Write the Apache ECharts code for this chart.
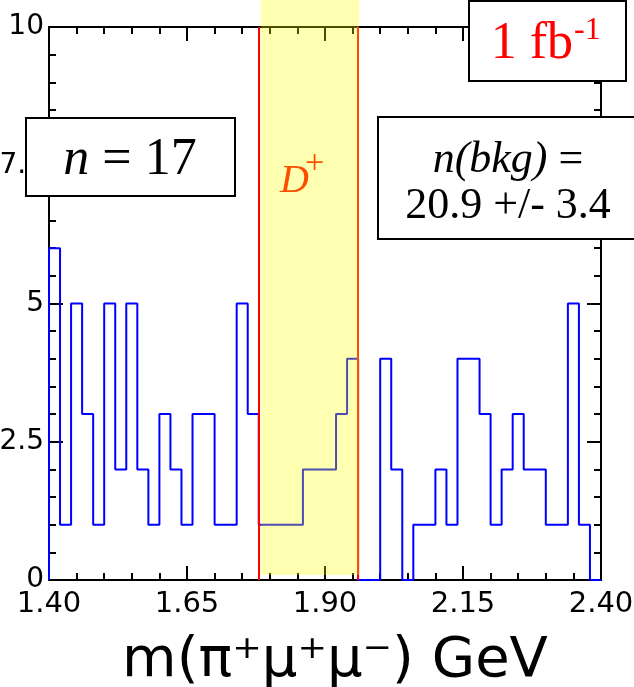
<!DOCTYPE html>
<html>
<head>
<meta charset="utf-8">
<script src="https://cdn.jsdelivr.net/npm/echarts@6/dist/echarts.min.js"></script>
<style>
    html, body { margin: 0; padding: 0; background: #fff; }
    #main { width: 634px; height: 687px; }
</style>
</head>
<body>
<div id="main"></div>
<script>
// histogram: 50 bins of 0.02 GeV from 1.40 to 2.40
var xMin = 1.40, xMax = 2.40;
var binWidth = 0.02;
var counts = [6, 1, 5, 3, 1, 5, 2, 5, 2, 1,
              3, 2, 1, 3, 3, 1, 1, 5, 3, 1,
              1, 1, 1, 2, 2, 2, 3, 4, 0, 0,
              4, 2, 0, 1, 1, 2, 1, 4, 4, 3,
              1, 2, 3, 2, 2, 1, 1, 5, 1, 0];
var xTickLabels = ['1.40', '1.65', '1.90', '2.15', '2.40'];
var yTickLabels = ['0', '2.5', '5', '7.5', '10'];
var signalWindow = [1.78, 1.96];

var SERIF = '"Liberation Serif", "Times New Roman", serif';
var SANS = '"DejaVu Sans", sans-serif';

// x axis runs on offset from xMin so ticks start at 0
function off(m) { return m - xMin; }

var stepData = [[0, 0]];
counts.forEach(function(c, i) {
    stepData.push([off(xMin + i * binWidth), c]);
});
stepData.push([off(xMax), counts[counts.length - 1]]);

var chart = echarts.init(document.getElementById('main'));

function xAxisCfg(pos, showLabel) {
    return {
        type: 'value',
        position: pos,
        min: 0,
        max: off(xMax),
        interval: 0.25,
        axisLine: { show: true, onZero: false, lineStyle: { color: '#000', width: 2 } },
        axisTick: { show: true, inside: true, length: 14, lineStyle: { color: '#000', width: 2 } },
        minorTick: { show: true, splitNumber: 5, length: 7, lineStyle: { color: '#000', width: 2 } },
        splitLine: { show: false },
        axisLabel: {
            show: showLabel,
            margin: 10,
            fontFamily: SANS,
            fontSize: 29,
            color: '#000',
            overflow: 'none',
            showMinLabel: true,
            showMaxLabel: true,
            formatter: function(v) {
                return xTickLabels[Math.round(v / 0.25)];
            }
        }
    };
}

function yAxisCfg(pos, showLabel) {
    return {
        type: 'value',
        position: pos,
        min: 0,
        max: 10,
        interval: 2.5,
        axisLine: { show: true, onZero: false, lineStyle: { color: '#000', width: 2 } },
        axisTick: { show: true, inside: true, length: 14, lineStyle: { color: '#000', width: 2 } },
        minorTick: { show: true, splitNumber: 5, length: 7, lineStyle: { color: '#000', width: 2 } },
        splitLine: { show: false },
        axisLabel: {
            show: showLabel,
            margin: 5,
            fontFamily: SANS,
            fontSize: 28,
            color: '#000',
            overflow: 'none',
            showMinLabel: true,
            showMaxLabel: true,
            formatter: function(v) {
                return yTickLabels[Math.round(v / 2.5)];
            }
        }
    };
}

var xBottom = xAxisCfg('bottom', true);
xBottom.name = 'm(\u03c0\u207a\u03bc\u207a\u03bc\u207b) GeV';
xBottom.nameLocation = 'middle';
xBottom.nameGap = 53;
xBottom.nameTextStyle = { fontFamily: SANS, fontSize: 56, color: '#000', padding: [0, 0, 0, 20] };

chart.setOption({
    animation: false,
    backgroundColor: '#fff',
    grid: { left: 49, right: 33, top: 27, bottom: 107, outerBoundsMode: 'none' },
    xAxis: [xBottom, xAxisCfg('top', false)],
    yAxis: [yAxisCfg('left', true), yAxisCfg('right', false)],
    series: [{
        type: 'line',
        step: 'end',
        data: stepData,
        symbol: 'none',
        lineStyle: { color: '#0000ff', width: 2 },
        z: 2,
        markLine: {
            silent: true,
            symbol: ['none', 'none'],
            label: { show: false },
            lineStyle: { color: '#ff0000', width: 2, type: 'solid' },
            data: [{ xAxis: off(signalWindow[0]) }, { xAxis: off(signalWindow[1]) }]
        }
    }]
});

// yellow signal band, drawn over everything in the plot like the original
var bx0 = chart.convertToPixel({ xAxisIndex: 0 }, off(signalWindow[0])) + 2;
var bx1 = chart.convertToPixel({ xAxisIndex: 0 }, off(signalWindow[1])) + 1;
var by1 = chart.convertToPixel({ yAxisIndex: 0 }, 0) - 5;

chart.setOption({
    graphic: [
        {
            type: 'text', z: 5,
            x: 280, y: 181,
            style: { text: 'D', fill: '#ff0000', font: 'italic 40px ' + SERIF, textVerticalAlign: 'middle' }
        },
        {
            type: 'text', z: 5,
            x: 305, y: 164,
            style: { text: '+', fill: '#ff0000', font: '34px ' + SERIF, textVerticalAlign: 'middle' }
        },
        {
            type: 'rect', z: 10, silent: true,
            shape: { x: bx0, y: 0, width: bx1 - bx0, height: by1 },
            style: { fill: 'rgba(255,255,0,0.3)' }
        },
        // 1 fb-1 box
        {
            type: 'rect', z: 20,
            shape: { x: 469, y: 1, width: 157, height: 80 },
            style: { fill: '#fff', stroke: '#000', lineWidth: 2 }
        },
        {
            type: 'text', z: 21,
            x: 573, y: 44,
            style: { text: '1 fb', fill: '#ff0000', font: '52px ' + SERIF, textAlign: 'right', textVerticalAlign: 'middle' }
        },
        {
            type: 'text', z: 21,
            x: 574, y: 31,
            style: { text: '-1', fill: '#ff0000', font: '32px ' + SERIF, textAlign: 'left', textVerticalAlign: 'middle' }
        },
        // n = 17 box
        {
            type: 'rect', z: 20,
            shape: { x: 26, y: 118, width: 209, height: 78 },
            style: { fill: '#fff', stroke: '#000', lineWidth: 2 }
        },
        {
            type: 'text', z: 21,
            x: 130, y: 160,
            style: {
                text: '{i|n}{r| = 17}',
                textAlign: 'center', textVerticalAlign: 'middle',
                rich: {
                    i: { fontFamily: SERIF, fontStyle: 'italic', fontSize: 52, fill: '#000' },
                    r: { fontFamily: SERIF, fontSize: 52, fill: '#000' }
                }
            }
        },
        // n(bkg) box
        {
            type: 'rect', z: 20,
            shape: { x: 378, y: 117, width: 270, height: 122 },
            style: { fill: '#fff', stroke: '#000', lineWidth: 2 }
        },
        {
            type: 'text', z: 21,
            x: 508, y: 183,
            style: {
                text: '{i|n(bkg)}{r| =}\n{r|20.9 +/- 3.4}',
                textAlign: 'center', textVerticalAlign: 'middle',
                rich: {
                    i: { fontFamily: SERIF, fontStyle: 'italic', fontSize: 44, lineHeight: 46, fill: '#000' },
                    r: { fontFamily: SERIF, fontSize: 44, lineHeight: 46, fill: '#000' }
                }
            }
        }
    ]
});
</script>
</body>
</html>
